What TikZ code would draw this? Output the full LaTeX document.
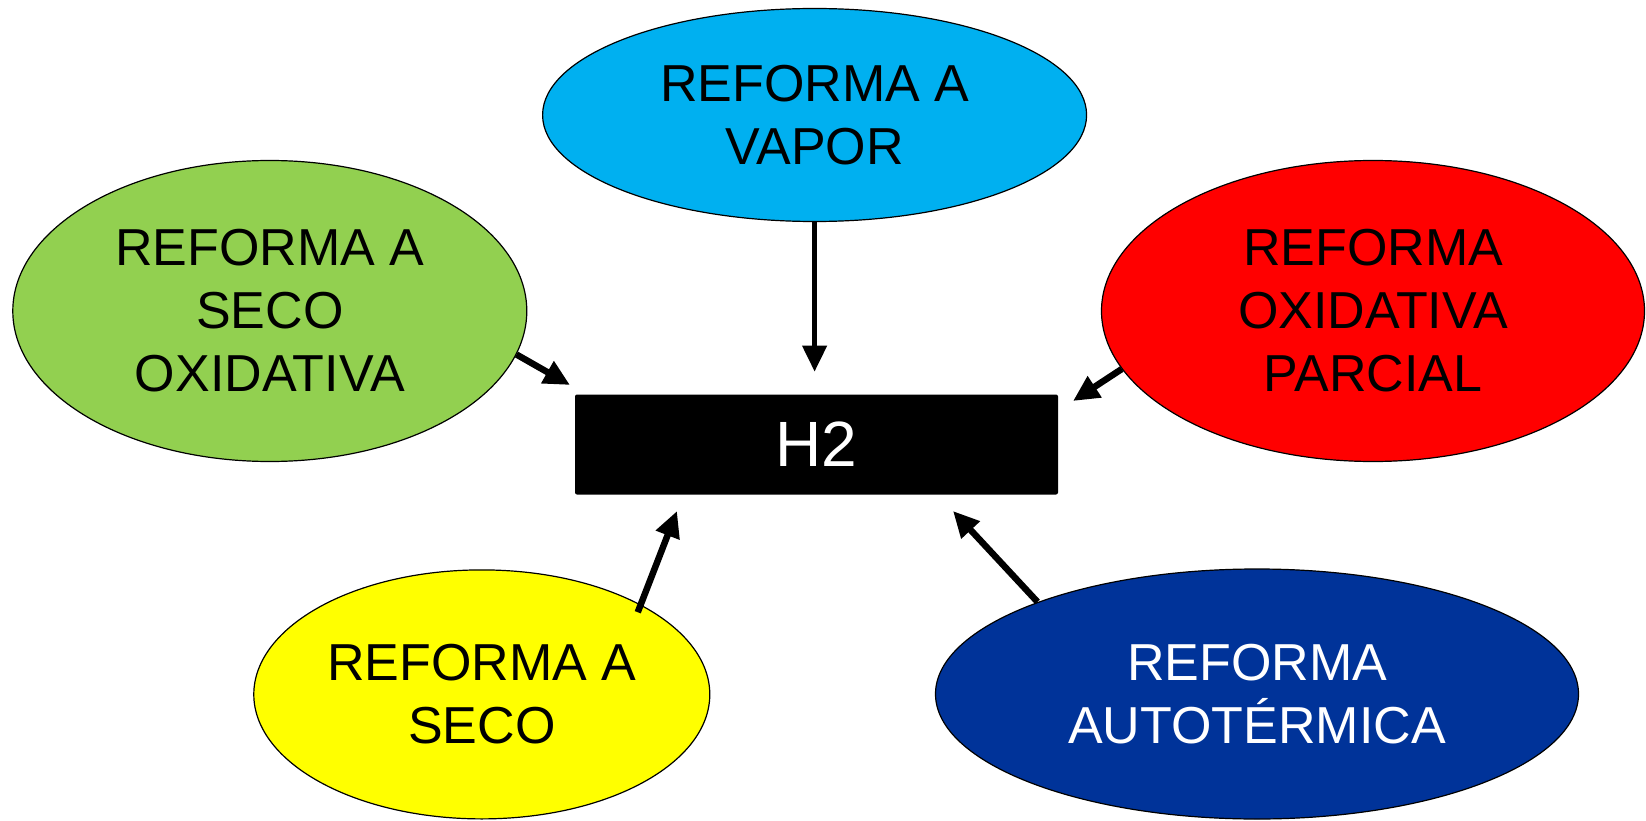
\documentclass[tikz,border=0pt]{standalone}
\usepackage{fontspec}
\setmainfont{Liberation Sans}
\usepackage{xcolor}
\usetikzlibrary{positioning, arrows.meta, shapes.geometric}

\definecolor{vaporblue}{HTML}{00B0F0}
\definecolor{dryoxgreen}{HTML}{92D050}
\definecolor{partialred}{HTML}{FF0000}
\definecolor{dryyellow}{HTML}{FFFF00}
\definecolor{autoblue}{HTML}{003399}

\tikzset{
    blob/.style={ellipse, draw=black, line width=1.2pt, inner sep=0pt, align=center,
        font=\fontsize{52}{63}\selectfont},
    feed/.style={-{Triangle[length=26pt, width=24pt]}, line width=6.5pt},
}

\begin{document}
\begin{tikzpicture}[x=1pt, y=-1pt]
    \useasboundingbox (0,0) rectangle (1646,821);

    \node[blob, fill=vaporblue, minimum width=544pt, minimum height=213pt] (vapor) at (814.6,115) {REFORMA A\\VAPOR};
    \node[blob, fill=dryoxgreen, minimum width=514pt, minimum height=301pt] (dryox) at (269.8,311) {REFORMA A\\SECO\\OXIDATIVA};
    \node[blob, fill=partialred, minimum width=543pt, minimum height=301pt] (partial) at (1373,311) {REFORMA\\OXIDATIVA\\PARCIAL};
    \node[blob, fill=dryyellow, minimum width=456pt, minimum height=249pt] (dry) at (481.8,694.4) {REFORMA A\\SECO};
    \node[blob, fill=autoblue, text=white, minimum width=643pt, minimum height=250pt] (auto) at (1257,694) {REFORMA\\AUTOTÉRMICA};

    \node[fill=black, rounded corners=2pt, minimum width=483pt, minimum height=100pt, inner sep=0pt,
        text=white, font=\fontsize{64}{70}\selectfont] (h2) at (816.5,444.5) {H2};

    \coordinate (tipV) at (814.6,371.6);
    \coordinate (tipL) at (570,385);
    \coordinate (tipR) at (1073,401);
    \coordinate (tipDL) at (677,511);
    \coordinate (tipDR) at (953,511);

    \draw[feed, line width=4.5pt] (vapor.south) -- (tipV);
    \draw[feed] (dryox.-10.75) -- (tipL);
    \draw[feed] (partial.193.7) -- (tipR);
    \draw[feed] ([shift={(-8,5)}]dry.28.3) -- (tipDL);
    \draw[feed] ([shift={(10,-4)}]auto.159.6) -- (tipDR);
\end{tikzpicture}
\end{document}
